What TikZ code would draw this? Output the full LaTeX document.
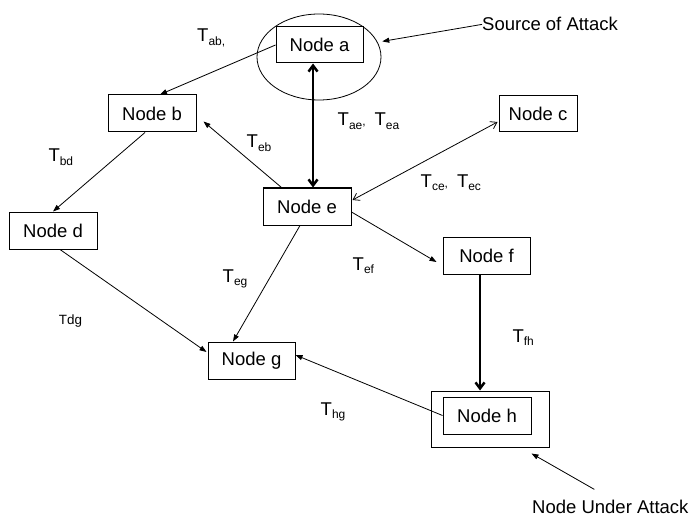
\documentclass[tikz,border=0pt]{standalone}
\usepackage{fontspec}
\setmainfont{Liberation Sans}
\usetikzlibrary{arrows.meta,shapes.geometric}
\newcommand\TT[1]{T\raisebox{-3.5pt}{\fontsize{12}{12}\selectfont #1}}
\newcommand\subc{{\fontsize{12}{12}\selectfont ,}}
\begin{document}
\begin{tikzpicture}[x=1pt,y=-1pt,
  box/.style={draw,line width=1pt,minimum height=37pt,minimum width=88pt,inner sep=0pt,
    font=\fontsize{18.5}{22}\selectfont},
  lbl/.style={inner sep=0pt,anchor=base west,font=\fontsize{18.5}{22}\selectfont},
  thin/.style={line width=0.8pt,-{Triangle[length=7pt,width=5pt]}},
  thick/.style={line width=2.5pt,{Straight Barb[length=6pt,width=9pt]}-{Straight Barb[length=6pt,width=9pt]}},
  open/.style={line width=0.8pt,{Straight Barb[length=6pt,width=8pt]}-{Straight Barb[length=6pt,width=8pt]}},
  thickone/.style={line width=2.5pt,-{Straight Barb[length=6pt,width=9pt]}}
]
\useasboundingbox (0,0) rectangle (691,516);
\fill[white] (0,0) rectangle (691,516);

% nodes
\node[draw,ellipse,line width=0.8pt,minimum width=124pt,minimum height=86pt,inner sep=0pt] (ella) at (319,57) {};
\node[box,minimum width=87pt,minimum height=36pt] (a) at (319.5,45) {Node a};
\node[box] (b) at (152,113.5) {Node b};
\node[box,minimum width=78pt,minimum height=36pt] (c) at (538,114) {Node c};
\node[box] (d) at (53,230.5) {Node d};
\node[box] (e) at (307,206.5) {Node e};
\node[box,minimum width=87pt] (f) at (486.5,255.5) {Node f};
\node[box,minimum width=87pt] (g) at (251.5,360.5) {Node g};
\node[draw,line width=1pt,minimum width=118pt,minimum height=56pt,inner sep=0pt] (hout) at (490,419) {};
\node[box] (h) at (487,415.5) {Node h};

% labels
\node[lbl] (src) at (482,31) {Source of Attack};
\node[lbl] (ua) at (532,513) {Node Under Attack};
\node[lbl] (lab) at (197,42) {\TT{ab,}};
\node[lbl] (lae) at (337.5,126) {\TT{ae}\subc\hspace{9pt}\TT{ea}};
\node[lbl] (leb) at (246.5,148) {\TT{eb}};
\node[lbl] (lce) at (420.5,187) {\TT{ce}\subc\hspace{9pt}\TT{ec}};
\node[lbl] (lbd) at (48.3,162) {\TT{bd}};
\node[lbl] (leg) at (222.5,282) {\TT{eg}};
\node[lbl,font=\fontsize{13.4}{16}\selectfont] (ldg) at (58.7,324) {Tdg};
\node[lbl] (lef) at (352.5,270) {\TT{ef}};
\node[lbl] (lfh) at (512.3,342) {\TT{fh}};
\node[lbl] (lhg) at (320.5,415) {\TT{hg}};

% connectors
\draw[thin] (a.west) -- ([xshift=8pt]b.north);
\draw[thick] ([xshift=-6.5pt]a.south) -- ([xshift=6pt]e.north);
\draw[thin] ([xshift=19pt]e.north west) -- ([xshift=7pt,yshift=-8pt]b.east);
\draw[open] ([xshift=-1pt,yshift=-8pt]c.west) -- ([xshift=1pt,yshift=6.5pt]e.east);
\draw[thin] ([xshift=-7pt]b.south) -- (d.north);
\draw[thin] ([xshift=7pt]d.south) -- ([xshift=-1pt,yshift=8.5pt]g.west);
\draw[thin] ([xshift=-7pt]e.south) -- ([xshift=-18.5pt]g.north);
\draw[thin] ([yshift=-5.5pt]e.east) -- ([xshift=-6pt,yshift=-6.5pt]f.west);
\draw[thickone] ([xshift=-6.5pt]f.south) -- ([xshift=-10pt]hout.north);
\draw[thin] (h.west) -- ([yshift=5.5pt]g.east);
\draw[thin] (src.west) -- ([xshift=5pt]ella.15);
\draw[thin] ([xshift=-16pt,yshift=10pt]ua.north) -- ([xshift=-18pt,yshift=-6pt]hout.south east);
\end{tikzpicture}
\end{document}
